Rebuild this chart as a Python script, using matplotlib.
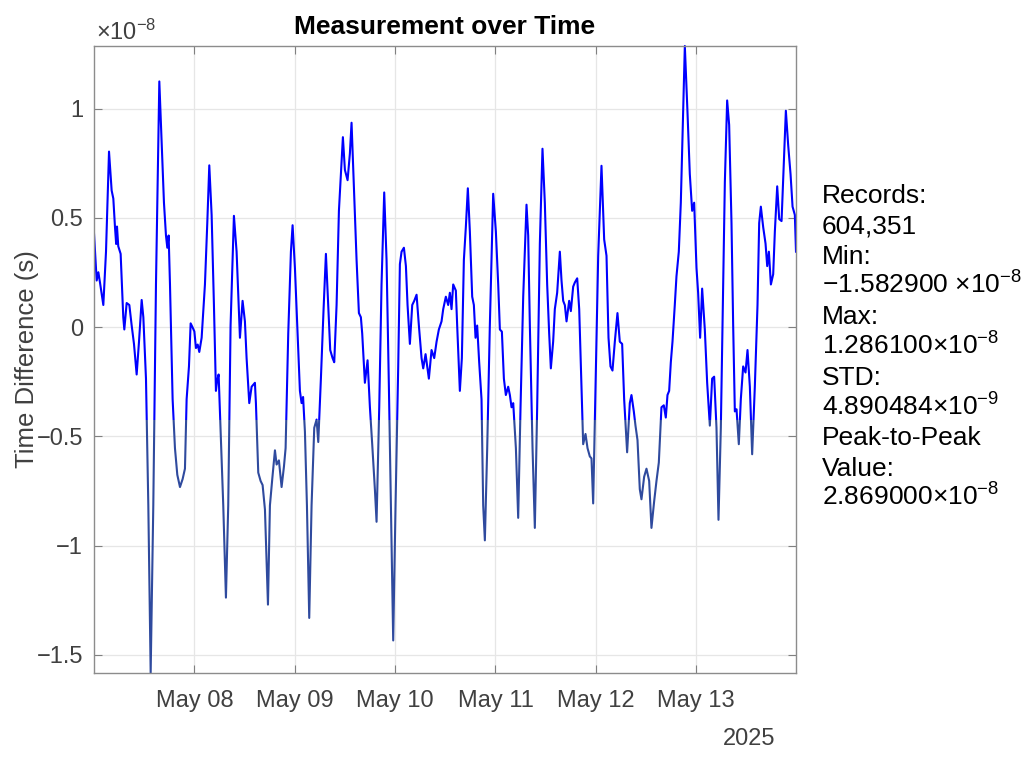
import matplotlib
matplotlib.use("Agg")
import matplotlib.pyplot as plt
import matplotlib.dates as mdates
import matplotlib.transforms as mtransforms
from matplotlib.patches import Rectangle
import numpy as np
import pandas as pd

plt.rcParams['font.family'] = ['Liberation Sans', 'DejaVu Sans']
plt.rcParams['mathtext.fontset'] = 'custom'
plt.rcParams['mathtext.rm'] = 'Liberation Sans'
plt.rcParams['mathtext.it'] = 'Liberation Sans:italic'
plt.rcParams['axes.unicode_minus'] = True

# hours since 2025-05-07 00:00 and time difference in units of 1e-8 s
hours = [
    0, 0.64, 1.04, 1.43, 2.23, 2.87, 3.59, 4.22, 4.62, 5.02, 5.3, 5.5, 5.8, 6.37,
    7.0, 7.25, 7.81, 8.45, 9.01, 9.56, 10.2, 10.76, 11.4, 11.8, 12.43, 12.99,
    13.55, 14.18, 14.82, 15.62, 16.18, 16.73, 17.21, 17.53, 17.85, 18.17, 18.8,
    19.36, 19.92, 20.56, 21.2, 21.75, 22.15, 22.71, 23.11, 23.59, 24.0, 24.38,
    24.8, 25.18, 25.74, 26.53, 27.09, 27.57, 28.13, 28.68, 29.16, 29.4, 29.8,
    30.28, 30.91, 31.55, 32.1, 32.66, 33.46, 34.1, 34.9, 35.53, 36.09, 36.49,
    37.13, 37.69, 38.48, 38.72, 39.28, 39.84, 40.32, 40.88, 41.6, 42.07, 42.63,
    43.27, 43.67, 44.22, 44.86, 45.42, 45.82, 46.45, 47.09, 47.49, 48.05, 48.69,
    49.24, 49.64, 50.0, 50.44, 50.92, 51.47, 52.03, 52.67, 53.23, 53.63, 54.26,
    54.9, 55.46, 56.01, 56.49, 57.05, 57.45, 58.01, 58.57, 59.52, 60.0, 60.64,
    61.19, 61.59, 62.23, 62.79, 63.35, 63.82, 64.14, 64.78, 65.42, 65.98, 66.53,
    67.17, 67.57, 68.21, 68.76, 69.4, 69.96, 70.52, 71.0, 71.55, 72.11, 72.75,
    73.15, 73.55, 74.11, 74.59, 74.98, 75.54, 76.1, 76.58, 77.14, 77.69, 78.33,
    78.73, 79.29, 80.08, 80.72, 81.36, 81.92, 82.47, 83.11, 83.51, 84.14, 84.7,
    85.1, 85.5, 85.9, 86.53, 86.85, 87.49, 87.97, 88.45, 88.92, 89.4, 89.88,
    90.44, 90.84, 91.24, 91.63, 92.11, 92.67, 93.07, 93.47, 94.03, 94.66, 95.46,
    96.1, 96.66, 97.06, 97.54, 98.02, 98.49, 99.05, 99.45, 99.85, 100.25, 100.89,
    101.44, 102.0, 102.64, 103.43, 103.83, 104.23, 104.87, 105.42, 105.98,
    106.62, 107.25, 107.81, 108.37, 108.85, 109.25, 109.8, 110.2, 110.76, 111.4,
    111.8, 112.2, 112.6, 113.0, 113.63, 114.03, 114.59, 114.99, 115.55, 116.03,
    116.58, 116.98, 117.54, 118.02, 118.57, 118.97, 119.37, 119.93, 120.57,
    121.36, 122.0, 122.56, 123.04, 123.51, 123.99, 124.55, 125.18, 125.74, 126.3,
    126.78, 127.49, 128.13, 128.53, 129.09, 129.49, 129.97, 130.52, 130.92,
    131.56, 132.12, 132.76, 133.31, 133.95, 134.51, 135.07, 135.7, 136.26,
    136.74, 137.14, 137.54, 137.94, 138.34, 138.89, 139.29, 139.85, 140.33,
    140.89, 141.29, 141.93, 142.48, 143.04, 143.52, 144.08, 144.47, 144.95,
    145.43, 146.07, 146.63, 147.27, 147.82, 148.3, 148.86, 149.34, 149.9, 150.45,
    150.86, 151.41, 151.89, 152.45, 152.85, 153.25, 153.65, 154.2, 154.68,
    155.24, 155.8, 156.28, 156.84, 157.39, 158.03, 158.67, 159.07, 159.47,
    160.03, 160.59, 160.99, 161.39, 161.87, 162.42, 162.82, 163.38, 163.86,
    164.42, 164.97, 165.45, 166.01, 166.57, 167.05, 167.6, 167.875,
]
values = [
    0.429, 0.213, 0.251, 0.204, 0.101, 0.345, 0.803, 0.625, 0.588, 0.457, 0.38,
    0.46, 0.37, 0.335, 0.045, -0.011, 0.110, 0.101, 0.007, -0.077, -0.217,
    -0.067, 0.124, 0.045, -0.236, -0.816, -1.5829, -0.816, 0.195, 1.124, 0.85,
    0.569, 0.419, 0.363, 0.419, 0.195, -0.33, -0.554, -0.676, -0.732, -0.695,
    -0.648, -0.33, -0.18, 0.017, -0.002, -0.02, -0.096, -0.08, -0.114, -0.049,
    0.195, 0.476, 0.74, 0.513, 0.101, -0.292, -0.25, -0.217, -0.479, -0.816,
    -1.238, -0.816, 0.007, 0.509, 0.345, -0.049, 0.12, 0.026, -0.142, -0.348,
    -0.273, -0.255, -0.348, -0.666, -0.704, -0.723, -0.835, -1.27, -0.816,
    -0.695, -0.564, -0.629, -0.61, -0.732, -0.639, -0.554, -0.03, 0.345, 0.466,
    0.27, -0.03, -0.292, -0.348, -0.32, -0.479, -0.816, -1.331, -0.816, -0.461,
    -0.423, -0.526, -0.236, 0.082, 0.335, 0.101, -0.105, -0.142, -0.161, 0.101,
    0.532, 0.869, 0.719, 0.672, 0.794, 0.935, 0.607, 0.307, 0.064, 0.045, -0.03,
    -0.255, -0.152, -0.367, -0.536, -0.742, -0.891, -0.367, 0.195, 0.616, 0.307,
    -0.273, -0.816, -1.434, -0.816, -0.18, 0.288, 0.345, 0.363, 0.279, 0.101,
    -0.077, 0.101, 0.12, 0.148, 0.007, -0.142, -0.189, -0.124, -0.236, -0.105,
    -0.142, -0.067, -0.011, 0.026, 0.082, 0.139, 0.101, 0.157, 0.082, 0.195,
    0.167, 0.007, -0.292, -0.142, 0.307, 0.457, 0.635, 0.438, 0.139, 0.101,
    -0.049, 0.007, -0.161, -0.33, -0.816, -0.976, -0.554, 0.007, 0.61, 0.438,
    0.195, -0.011, -0.021, -0.236, -0.311, -0.273, -0.311, -0.367, -0.348,
    -0.554, -0.873, -0.367, 0.139, 0.56, 0.419, 0.007, -0.554, -0.919, -0.367,
    0.382, 0.816, 0.569, 0.195, -0.03, -0.189, -0.067, 0.082, 0.157, 0.345,
    0.213, 0.12, 0.10, 0.026, 0.12, 0.073, 0.185, 0.204, 0.223, 0.082, -0.273,
    -0.536, -0.489, -0.554, -0.592, -0.601, -0.807, -0.273, 0.326, 0.738, 0.401,
    0.326, -0.049, -0.18, -0.199, -0.067, 0.064, -0.067, -0.077, -0.33, -0.573,
    -0.348, -0.311, -0.386, -0.451, -0.517, -0.742, -0.788, -0.685, -0.648,
    -0.704, -0.919, -0.798, -0.704, -0.62, -0.367, -0.358, -0.414, -0.311,
    -0.292, -0.161, -0.067, 0.101, 0.232, 0.345, 0.569, 0.981, 1.2861, 0.981,
    0.7, 0.532, 0.569, 0.27, 0.157, -0.049, 0.176, -0.011, -0.255, -0.451,
    -0.236, -0.227, -0.461, -0.882, -0.461, 0.195, 0.663, 1.037, 0.925, 0.476,
    0.007, -0.386, -0.376, -0.536, -0.33, -0.18, -0.208, -0.105, -0.273, -0.582,
    -0.273, 0.101, 0.476, 0.551, 0.457, 0.382, 0.279, 0.345, 0.195, 0.242,
    0.438, 0.644, 0.494, 0.485, 0.757, 0.99, 0.831, 0.7, 0.551, 0.513, 0.345,
]

start = pd.Timestamp("2025-05-07 00:00:00")
tick_days = pd.date_range("2025-05-08", "2025-05-13", freq="D")
y_ticks = [-1.5, -1, -0.5, 0, 0.5, 1]
y_min, y_max = -1.5829, 1.2861

stats_lines = [
    "Records:",
    "604,351",
    "Min:",
    "\u22121.582900 \u00d710$^{-8}$",
    "Max:",
    "1.286100\u00d710$^{-8}$",
    "STD:",
    "4.890484\u00d710$^{-9}$",
    "Peak-to-Peak",
    "Value:",
    "2.869000\u00d710$^{-8}$",
]

times = start + pd.to_timedelta(np.array(hours), unit="h")
vals = np.array(values)

fig = plt.figure(figsize=(10.24, 7.57), dpi=100)
ax = fig.add_axes([94 / 1024, 1 - 673 / 757, 702 / 1024, 627 / 757])

# line is drawn darker below this level in the original rendering
dark_below = -0.427
blend = mtransforms.blended_transform_factory(ax.transAxes, ax.transData)
upper = Rectangle((0, dark_below), 1, 10, transform=blend)
lower = Rectangle((0, -10), 1, 10 + dark_below, transform=blend)

l1, = ax.plot(times, vals, color="#0000ff", lw=1.5)
l1.set_clip_path(upper)
l2, = ax.plot(times, vals, color="#2f4a9e", lw=1.5)
l2.set_clip_path(lower)

ax.set_xlim(times[0], times[-1])
ax.set_ylim(y_min, y_max)
ax.set_xticks(tick_days)
ax.xaxis.set_major_formatter(mdates.DateFormatter("%b %d"))
ax.set_yticks(y_ticks)
ax.set_yticklabels([f"{v:g}".replace("-", "\u2212") for v in y_ticks])

ax.grid(True, color="#e6e6e6", lw=0.9)
ax.set_axisbelow(True)
ax.tick_params(direction="in", top=True, right=True, length=6, width=0.8,
               color="#808080", labelsize=17, labelcolor="#404040")
ax.tick_params(axis="x", pad=12)
ax.tick_params(axis="y", pad=8)
for s in ax.spines.values():
    s.set_color("#8c8c8c")
    s.set_linewidth(1.0)

ax.set_ylabel("Time Difference (s)", fontsize=18.5, color="#404040")
ax.yaxis.set_label_coords(-0.079, 0.5)
ax.set_title("Measurement over Time", fontsize=19, fontweight="bold", pad=9)

fig.text(96 / 1024, 1 - 40 / 757, "\u00d710$^{-8}$", fontsize=17,
         color="#404040", va="baseline", ha="left")
fig.text(775 / 1024, 1 - 745 / 757, "2025", fontsize=17, color="#404040",
         va="baseline", ha="right")

for i, line in enumerate(stats_lines):
    fig.text(822 / 1024, 1 - (203 + 30.3 * i) / 757, line, fontsize=19,
             color="black", va="baseline", ha="left")

fig.savefig("out.png", dpi=100)
